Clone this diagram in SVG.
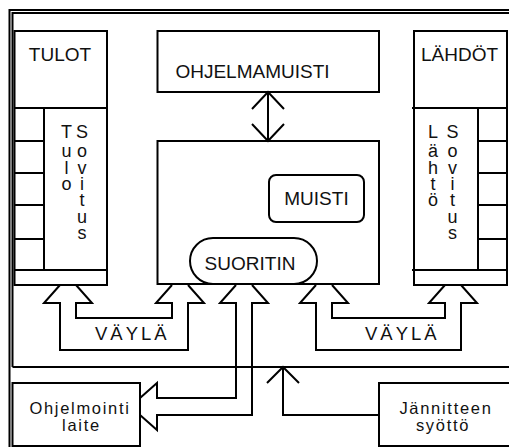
<svg xmlns="http://www.w3.org/2000/svg" width="509" height="447" viewBox="0 0 509 447">
  <style>
    .ln { fill: none; stroke: #000; stroke-width: 2; stroke-linejoin: miter; }
    .box { fill: #fff; stroke: #000; stroke-width: 2; }
    .cap { font-family: "Liberation Sans", Arial, sans-serif; font-size: 19px; fill: #111; text-anchor: middle; }
    .vert { font-family: "Liberation Sans", Arial, sans-serif; font-size: 18px; fill: #111; text-anchor: middle; }
    .low { font-family: "Liberation Sans", Arial, sans-serif; font-size: 16.5px; fill: #111; text-anchor: middle; letter-spacing: 1.7px; }
    .bus { font-family: "Liberation Sans", Arial, sans-serif; font-size: 18.5px; fill: #111; letter-spacing: 3px; }
  </style>
  <rect width="509" height="447" fill="#fff"/>

  <!-- enclosure: double border -->
  <g id="frame">
    <path class="ln" d="M9.5,447 V10 H509"/>
    <path class="ln" stroke-width="1.5" d="M12.5,367 V13 H509"/>
    <path class="ln" d="M12.5,367 H509"/>
  </g>

  <!-- input module -->
  <g id="tulot">
    <rect class="box" x="14.5" y="31" width="92.5" height="254"/>
    <path class="ln" d="M14.5,108 H107 M44,108 V270 M14.5,141 H44 M14.5,173 H44 M14.5,205 H44 M14.5,239 H44 M14.5,270 H107"/>
    <text class="cap" x="60" y="61">TULOT</text>
    <!-- vertical labels, one letter per line -->
    <g class="vert">
      <text x="66.5" y="138">T</text><text x="66.5" y="157">u</text><text x="66.5" y="174">l</text><text x="66.5" y="190">o</text>
      <text x="82" y="138">S</text><text x="82" y="157">o</text><text x="82" y="174">v</text><text x="82" y="190">i</text><text x="82" y="206">t</text><text x="82" y="223">u</text><text x="82" y="239">s</text>
    </g>
  </g>

  <!-- output module -->
  <g id="lahdot">
    <rect class="box" x="414" y="31" width="93" height="254"/>
    <path class="ln" d="M412,108 H507 M478,108 V270 M478,141 H507 M478,173 H507 M478,205 H507 M478,239 H507 M412,270 H507"/>
    <text class="cap" x="459.5" y="61">LÄHDÖT</text>
    <g class="vert">
      <text x="433" y="138">L</text><text x="433" y="157">ä</text><text x="433" y="174">h</text><text x="433" y="190">t</text><text x="433" y="206">ö</text>
      <text x="452.5" y="138">S</text><text x="452.5" y="157">o</text><text x="452.5" y="174">v</text><text x="452.5" y="190">i</text><text x="452.5" y="206">t</text><text x="452.5" y="223">u</text><text x="452.5" y="239">s</text>
    </g>
  </g>

  <!-- program memory -->
  <g id="ohjelmamuisti">
    <rect class="box" x="157.5" y="31" width="221.5" height="61"/>
    <text class="cap" x="252.5" y="78">OHJELMAMUISTI</text>
  </g>

  <!-- central unit -->
  <g id="keskusyksikko">
    <rect class="box" x="157.5" y="141" width="221.5" height="143"/>
  </g>
  <g id="muisti">
    <rect class="box" x="269" y="175" width="95" height="47" rx="7"/>
    <text class="cap" x="316.5" y="205">MUISTI</text>
  </g>
  <g id="suoritin">
    <rect class="box" x="190" y="238" width="127" height="46" rx="23"/>
    <text class="cap" x="250" y="270">SUORITIN</text>
  </g>

  <!-- programming device -->
  <g id="ohjelmointilaite">
    <rect class="box" x="12.5" y="383" width="127.5" height="63"/>
    <text class="low" x="80" y="414">Ohjelmointi</text>
    <text class="low" x="81.5" y="431">laite</text>
  </g>

  <!-- power supply -->
  <g id="jannitteensyotto">
    <path class="box" d="M515,383 H379 V446 H515"/>
    <text class="low" x="446" y="414">Jännitteen</text>
    <text class="low" x="443" y="431">syöttö</text>
  </g>

  <!-- connectors -->
  <g id="connectors">
    <!-- program memory <-> central unit -->
    <path class="ln" d="M268,92 V141 M252,109 L268,92 L284,109 M252,124 L268,141 L284,124"/>
    <!-- bus: inputs <-> central unit -->
    <path class="ln" d="M60,285 L44,303 H60 V350 H188 V303 H204 L188,285 M172,285 L156,303 H172 V318 H76 V303 H92 L76,285"/>
    <!-- bus: central unit <-> outputs -->
    <path class="ln" d="M316,285 L300,303 H316 V350 H461 V303 H477 L461,285 M445,285 L429,303 H445 V318 H332 V303 H348 L332,285"/>
    <!-- processor <-> programming device -->
    <path class="ln" d="M236,285 L220,303 H236 V398 H157 V383 L140,398 M140,415 L157,430 V415 H252 V303 H268 L252,285"/>
    <!-- power supply feed -->
    <path class="ln" d="M379,415 H283 V367 M267,383 L283,367 L299,383"/>
    <text class="bus" x="95" y="340">VÄYLÄ</text>
    <text class="bus" x="365" y="340">VÄYLÄ</text>
  </g>
</svg>
